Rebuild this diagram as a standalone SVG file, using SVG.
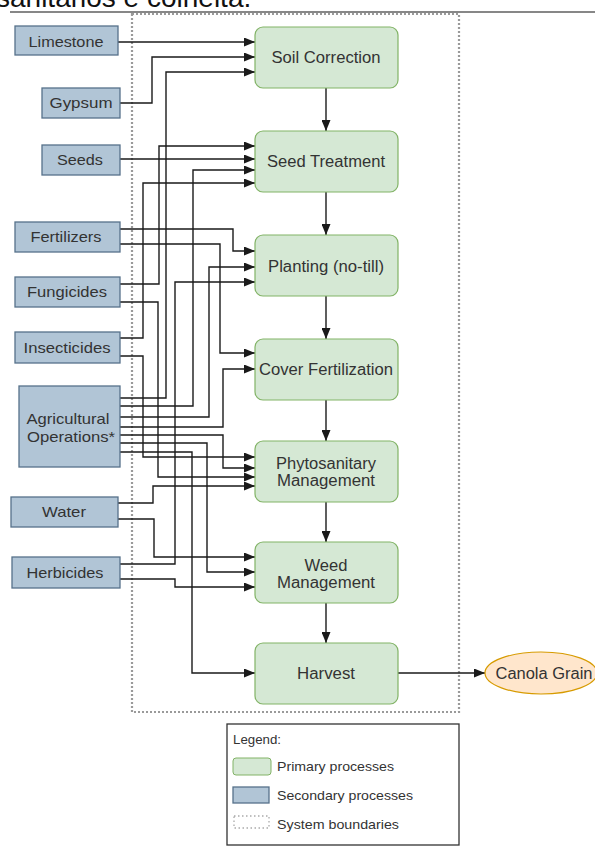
<svg xmlns="http://www.w3.org/2000/svg" width="595" height="847" viewBox="0 0 595 847">
<defs>
<marker id="arr" markerUnits="userSpaceOnUse" markerWidth="11" markerHeight="9" refX="11" refY="4.5" orient="auto">
<path d="M0,0 L11,4.5 L0,9 z" fill="#1a1a1a"/>
</marker>
<style>
.pri{fill:#d5e8d4;stroke:#82b366;stroke-width:1.2}
.sec{fill:#b1c5d6;stroke:#56718a;stroke-width:1.3}
.t{font-family:"Liberation Sans",Arial,sans-serif;fill:#333;text-anchor:middle}
.tp{font-size:16px}
.ts{font-size:15px}
.tl{font-family:"Liberation Sans",Arial,sans-serif;fill:#333;font-size:13.5px}
.c{fill:none;stroke:#1a1a1a;stroke-width:1.4;marker-end:url(#arr)}
.bnd{fill:none;stroke:#9a9a9a;stroke-width:2.2;stroke-dasharray:2 2}
</style>
</defs>
<rect width="595" height="847" fill="#fff"/>
<text x="-4" y="7" font-family="Liberation Sans,Arial,sans-serif" font-size="28" fill="#111">sanitários e colheita.</text>
<line x1="10" y1="12" x2="595" y2="12" stroke="#111" stroke-width="1.2"/>
<rect class="bnd" x="132" y="14" width="327" height="698"/>

<g id="connectors">
<path class="c" d="M118,42 H255"/>
<path class="c" d="M120,103 H152 V57 H255"/>
<path class="c" d="M120,398 H166 V72 H255"/>
<path class="c" d="M120,284 H159 V146 H255"/>
<path class="c" d="M120,159 H255"/>
<path class="c" d="M120,406 H193 V170 H255"/>
<path class="c" d="M120,338 H143 V183 H255"/>
<path class="c" d="M120,229 H233 V251 H255"/>
<path class="c" d="M120,417 H209 V267 H255"/>
<path class="c" d="M120,564 H175 V282 H255"/>
<path class="c" d="M120,244 H220 V353 H255"/>
<path class="c" d="M120,427 H223 V369 H255"/>
<path class="c" d="M120,356 H143 V457 H255"/>
<path class="c" d="M120,435 H223 V468 H255"/>
<path class="c" d="M120,302 H158 V477 H255"/>
<path class="c" d="M118,503 H153 V486 H255"/>
<path class="c" d="M118,519 H154 V557 H255"/>
<path class="c" d="M120,443 H207 V572 H255"/>
<path class="c" d="M120,579 H175 V587 H255"/>
<path class="c" d="M120,452 H192 V673 H255"/>
<path class="c" d="M326,88 V131"/>
<path class="c" d="M326,192 V235"/>
<path class="c" d="M326,296 V339"/>
<path class="c" d="M326,400 V441"/>
<path class="c" d="M326,502 V542"/>
<path class="c" d="M326,603 V643"/>
<path class="c" d="M398,673 H485"/>
</g>

<g id="limestone"><rect class="sec" x="15" y="26" width="103" height="29"/><text class="t ts" x="66" y="47" textLength="75" lengthAdjust="spacingAndGlyphs">Limestone</text></g>
<g id="gypsum"><rect class="sec" x="42" y="88" width="78" height="30"/><text class="t ts" x="81" y="108" textLength="63" lengthAdjust="spacingAndGlyphs">Gypsum</text></g>
<g id="seeds"><rect class="sec" x="42" y="145" width="78" height="30"/><text class="t ts" x="80" y="165" textLength="46" lengthAdjust="spacingAndGlyphs">Seeds</text></g>
<g id="fertilizers"><rect class="sec" x="15" y="222" width="105" height="30"/><text class="t ts" x="66" y="242" textLength="71" lengthAdjust="spacingAndGlyphs">Fertilizers</text></g>
<g id="fungicides"><rect class="sec" x="15" y="277" width="105" height="30"/><text class="t ts" x="67" y="297" textLength="80" lengthAdjust="spacingAndGlyphs">Fungicides</text></g>
<g id="insecticides"><rect class="sec" x="15" y="332" width="105" height="31"/><text class="t ts" x="67" y="353" textLength="87" lengthAdjust="spacingAndGlyphs">Insecticides</text></g>
<g id="agops"><rect class="sec" x="19" y="386" width="101" height="81"/><text class="t ts" x="68" y="424" textLength="83" lengthAdjust="spacingAndGlyphs">Agricultural</text><text class="t ts" x="71" y="442" textLength="88" lengthAdjust="spacingAndGlyphs">Operations*</text></g>
<g id="water"><rect class="sec" x="11" y="497" width="107" height="30"/><text class="t ts" x="64" y="517" textLength="44" lengthAdjust="spacingAndGlyphs">Water</text></g>
<g id="herbicides"><rect class="sec" x="12" y="557" width="108" height="31"/><text class="t ts" x="65" y="578" textLength="77" lengthAdjust="spacingAndGlyphs">Herbicides</text></g>

<g id="soil"><rect class="pri" x="255" y="27" width="143" height="61" rx="8"/><text class="t tp" x="326" y="63" textLength="109" lengthAdjust="spacingAndGlyphs">Soil Correction</text></g>
<g id="seedtreat"><rect class="pri" x="255" y="131" width="143" height="61" rx="8"/><text class="t tp" x="326" y="167" textLength="118" lengthAdjust="spacingAndGlyphs">Seed Treatment</text></g>
<g id="planting"><rect class="pri" x="255" y="235" width="143" height="61" rx="8"/><text class="t tp" x="326" y="272" textLength="116" lengthAdjust="spacingAndGlyphs">Planting (no-till)</text></g>
<g id="cover"><rect class="pri" x="255" y="339" width="143" height="61" rx="8"/><text class="t tp" x="326" y="375" textLength="134" lengthAdjust="spacingAndGlyphs">Cover Fertilization</text></g>
<g id="phyto"><rect class="pri" x="255" y="441" width="143" height="61" rx="8"/><text class="t tp" x="326" y="469" textLength="100" lengthAdjust="spacingAndGlyphs">Phytosanitary</text><text class="t tp" x="326" y="486" textLength="98" lengthAdjust="spacingAndGlyphs">Management</text></g>
<g id="weed"><rect class="pri" x="255" y="542" width="143" height="61" rx="8"/><text class="t tp" x="326" y="571" textLength="43" lengthAdjust="spacingAndGlyphs">Weed</text><text class="t tp" x="326" y="588" textLength="98" lengthAdjust="spacingAndGlyphs">Management</text></g>
<g id="harvest"><rect class="pri" x="255" y="643" width="143" height="61" rx="8"/><text class="t tp" x="326" y="679" textLength="58" lengthAdjust="spacingAndGlyphs">Harvest</text></g>
<g id="canola"><ellipse cx="541" cy="673" rx="56" ry="21" fill="#ffe6cc" stroke="#d79b00" stroke-width="1.2"/><text class="t tp" x="544" y="679" textLength="97" lengthAdjust="spacingAndGlyphs">Canola Grain</text></g>

<g id="legend">
<rect x="227" y="724" width="232" height="121" fill="#fff" stroke="#333" stroke-width="1.3"/>
<text class="tl" x="233" y="744" textLength="48" lengthAdjust="spacingAndGlyphs">Legend:</text>
<rect x="233" y="758" width="38" height="17" rx="3" fill="#d5e8d4" stroke="#82b366"/>
<text class="tl" x="277" y="771" textLength="117" lengthAdjust="spacingAndGlyphs">Primary processes</text>
<rect x="233" y="787" width="36" height="16" fill="#b1c5d6" stroke="#56718a" stroke-width="1.3"/>
<text class="tl" x="277" y="800" textLength="136" lengthAdjust="spacingAndGlyphs">Secondary processes</text>
<rect x="234" y="816" width="35" height="12" fill="none" stroke="#aaa" stroke-width="1.3" stroke-dasharray="1.5 2.5"/>
<text class="tl" x="277" y="829" textLength="122" lengthAdjust="spacingAndGlyphs">System boundaries</text>
</g>
</svg>
